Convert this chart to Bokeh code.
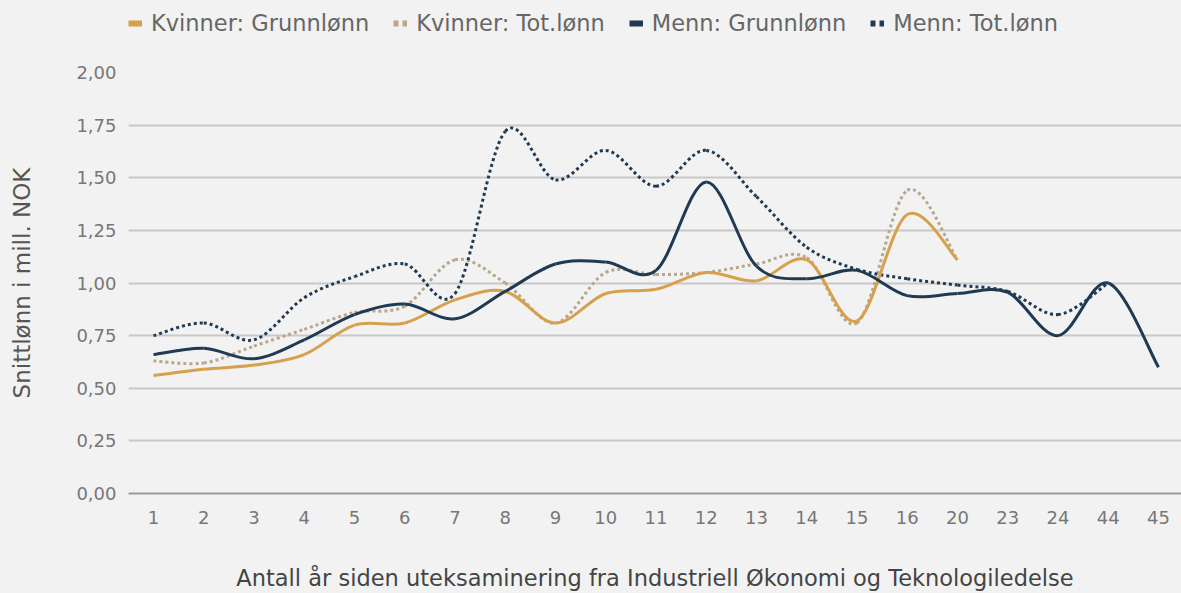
from bokeh.plotting import figure
from bokeh.layouts import column
from bokeh.models import (ColumnDataSource, FixedTicker, Legend, LegendItem,
                          CustomJSTickFormatter, Range1d)
from bokeh.embed import file_html
from bokeh.resources import INLINE

# ---------------- data ----------------
categories = ["1", "2", "3", "4", "5", "6", "7", "8", "9", "10", "11", "12",
              "13", "14", "15", "16", "20", "23", "24", "44", "45"]
kvinner_grunn = [0.56, 0.59, 0.61, 0.66, 0.80, 0.81, 0.92, 0.96, 0.81, 0.95,
                 0.97, 1.05, 1.01, 1.11, 0.82, 1.325, 1.11]
kvinner_tot = [0.63, 0.62, 0.70, 0.78, 0.86, 0.89, 1.11, 1.00, 0.81, 1.05,
               1.04, 1.05, 1.09, 1.12, 0.81, 1.44, 1.11]
menn_grunn = [0.66, 0.69, 0.64, 0.73, 0.85, 0.90, 0.83, 0.96, 1.09, 1.10,
              1.06, 1.48, 1.08, 1.02, 1.06, 0.94, 0.95, 0.955, 0.75, 1.00, 0.60]
menn_tot = [0.75, 0.81, 0.73, 0.93, 1.03, 1.09, 0.95, 1.72, 1.49, 1.63,
            1.46, 1.63, 1.41, 1.17, 1.065, 1.02, 0.99, 0.96, 0.85, 1.00]
y_ticks = [0, 0.25, 0.5, 0.75, 1.0, 1.25, 1.5, 1.75, 2.0]
series_names = ["Kvinner: Grunnlønn", "Kvinner: Tot.lønn",
                "Menn: Grunnlønn", "Menn: Tot.lønn"]

ORANGE = "#D6A04C"
TAN = "#B8A78A"
NAVY = "#1F3A52"
BG = "#F2F2F2"
FONT = "DejaVu Sans"
W = 1181


def smooth_source(values):
    """Catmull-Rom style cubic Bezier segments through the data points."""
    xs = list(range(len(values)))
    ys = values
    n = len(ys)
    d = dict(x0=[], y0=[], x1=[], y1=[], cx0=[], cy0=[], cx1=[], cy1=[])
    for i in range(n - 1):
        a = i - 1 if i > 0 else i
        b = i + 2 if i + 2 < n else i + 1
        d["x0"].append(xs[i]); d["y0"].append(ys[i])
        d["x1"].append(xs[i + 1]); d["y1"].append(ys[i + 1])
        d["cx0"].append(xs[i] + (xs[i + 1] - xs[a]) / 6)
        d["cy0"].append(ys[i] + (ys[i + 1] - ys[a]) / 6)
        d["cx1"].append(xs[i + 1] - (xs[b] - xs[i]) / 6)
        d["cy1"].append(ys[i + 1] - (ys[b] - ys[i]) / 6)
    return ColumnDataSource(d)


series = [
    (kvinner_grunn, ORANGE, "solid", series_names[0]),
    (kvinner_tot, TAN, "3 3", series_names[1]),
    (menn_grunn, NAVY, "solid", series_names[2]),
    (menn_tot, NAVY, "3 3", series_names[3]),
]

# ---------------- legend strip ----------------
top = figure(width=W, height=60, output_backend="svg", toolbar_location=None,
             x_range=Range1d(0, W), y_range=Range1d(0, 60),
             x_axis_type=None, y_axis_type=None,
             min_border=0, min_border_left=0, min_border_right=0,
             min_border_top=0, min_border_bottom=0)
top.background_fill_color = BG
top.border_fill_color = BG
top.outline_line_color = None
top.grid.visible = False
items = []
for vals, col, dash, name in series:
    # legend keys only (kept outside the visible range)
    r = top.line(x=[-60, -50], y=[-60, -60], line_color=col, line_width=6,
                 line_dash="solid" if dash == "solid" else "5 4")
    items.append(LegendItem(label=name, renderers=[r]))
legend = Legend(items=items, orientation="horizontal", location=(0, 24),
                glyph_width=14, glyph_height=20, label_standoff=9, spacing=24,
                padding=0, margin=0, border_line_color=None,
                background_fill_alpha=0, label_text_font=FONT,
                label_text_font_size="22.5px", label_text_color="#666666")
top.add_layout(legend, "center")

# ---------------- main chart ----------------
p = figure(width=W, height=533, output_backend="svg", toolbar_location=None,
           x_range=Range1d(-0.4975, 20.458), y_range=Range1d(0, 2.0),
           min_border_left=128, min_border_right=0, min_border_top=12,
           min_border_bottom=99)
p.background_fill_color = BG
p.border_fill_color = BG
p.outline_line_color = None

# draw order: dotted under solid
for vals, col, dash, name in [series[1], series[3], series[0], series[2]]:
    src = smooth_source(vals)
    p.bezier(x0="x0", y0="y0", x1="x1", y1="y1", cx0="cx0", cy0="cy0",
             cx1="cx1", cy1="cy1", source=src, line_color=col,
             line_width=3, line_dash=dash)

p.xaxis.ticker = FixedTicker(ticks=list(range(len(categories))))
p.xaxis.major_label_overrides = {i: c for i, c in enumerate(categories)}
p.xaxis.axis_line_color = "#9A9A9A"
p.xaxis.axis_line_width = 2
p.xaxis.major_tick_line_color = None
p.xaxis.minor_tick_line_color = None
p.xaxis.major_label_standoff = 11
p.xaxis.major_label_text_font = FONT
p.xaxis.major_label_text_font_size = "18px"
p.xaxis.major_label_text_color = "#777777"
p.xaxis.axis_label = "Antall år siden uteksaminering fra Industriell Økonomi og Teknologiledelse"
p.xaxis.axis_label_text_font = FONT
p.xaxis.axis_label_text_font_size = "22.5px"
p.xaxis.axis_label_text_font_style = "normal"
p.xaxis.axis_label_text_color = "#444444"
p.xaxis.axis_label_standoff = 38

p.yaxis.ticker = FixedTicker(ticks=y_ticks)
p.yaxis.formatter = CustomJSTickFormatter(code="return tick.toFixed(2).replace('.', ',');")
p.yaxis.axis_line_color = None
p.yaxis.major_tick_line_color = None
p.yaxis.minor_tick_line_color = None
p.yaxis.major_label_standoff = 6
p.yaxis.major_label_text_font = FONT
p.yaxis.major_label_text_font_size = "18px"
p.yaxis.major_label_text_color = "#777777"
p.yaxis.axis_label = "Snittlønn i mill. NOK"
p.yaxis.axis_label_text_font = FONT
p.yaxis.axis_label_text_font_size = "23px"
p.yaxis.axis_label_text_font_style = "normal"
p.yaxis.axis_label_text_color = "#555555"
p.yaxis.axis_label_standoff = 38

p.xgrid.grid_line_color = None
p.ygrid.grid_line_color = "#C8C8C8"
p.ygrid.grid_line_width = 2

layout = column(top, p, spacing=0)
layout.styles = {"background-color": BG}
open("out.html", "w").write(file_html(layout, INLINE))
